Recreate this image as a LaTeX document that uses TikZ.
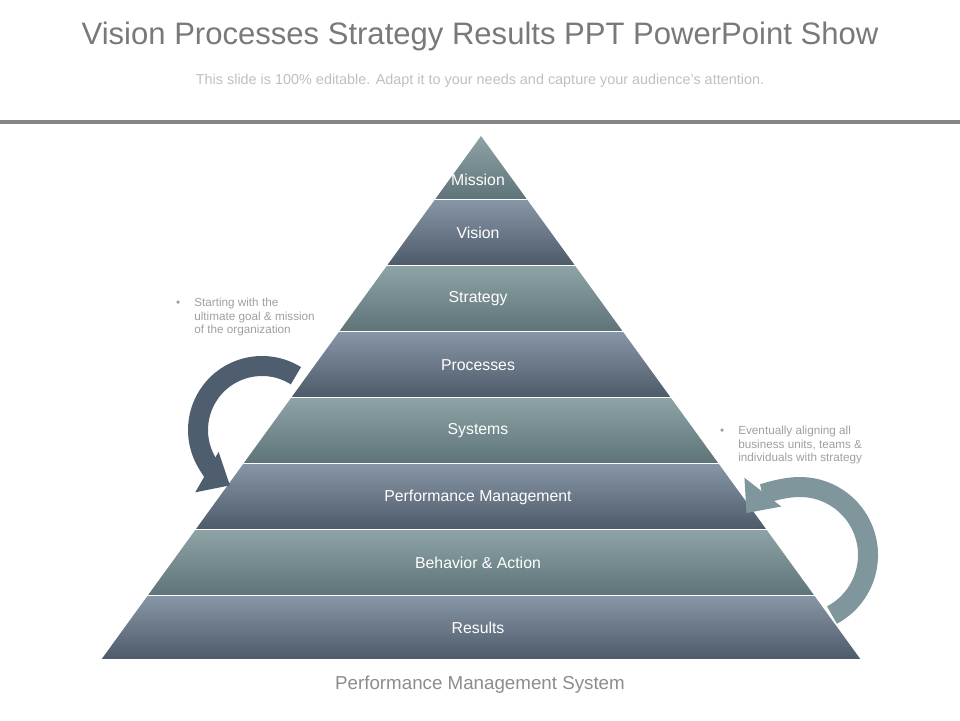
\documentclass[tikz,border=0pt]{standalone}
\usepackage{fontspec}
\setmainfont{Liberation Sans}
\usetikzlibrary{arrows.meta}
\definecolor{slatetop}{HTML}{8796A6}
\definecolor{slatebot}{HTML}{4C5968}
\definecolor{tealtop}{HTML}{8EA3A6}
\definecolor{tealbot}{HTML}{5D7377}
\definecolor{arrowdark}{HTML}{4F5E6E}
\definecolor{arrowlight}{HTML}{7F979C}
\tikzset{
  lbl/.style={text=white, font=\fontsize{13.5}{16}\selectfont},
  note/.style={text=gray!75, font=\fontsize{10}{11.5}\selectfont, align=left, anchor=north west},
  curlarrow/.style={line width=0.6cm, -{Triangle[width=1.35cm,length=0.8cm]}}
}
\begin{document}
\begin{tikzpicture}[x=0.03cm, y=-0.03cm]
\useasboundingbox (0,0) rectangle (960,720);
\node[text=gray!95!black, font=\fontsize{26.5}{30}\selectfont] (title) at (480,36) {Vision Processes Strategy Results PPT PowerPoint Show};
\node[text=gray!50, font=\fontsize{12.3}{14}\selectfont] (sub) at (480,81) {This slide is 100\% editable. Adapt it to your needs and capture your audience's attention.};
\fill[gray!95] (0,120) rectangle (960,124);

% pyramid bands
\foreach \top/\bot/\c/\txt [count=\i] in {136/200/teal/Mission, 200/266/slate/Vision, 266/332/teal/Strategy, 332/398/slate/Processes, 398/464/teal/Systems, 464/530/slate/Performance Management, 530/596/teal/Behavior \& Action, 596/660/slate/Results}{
  \pgfmathsetmacro\lt{481-(\top-136)*0.7252}
  \pgfmathsetmacro\rt{481+(\top-136)*0.7252}
  \pgfmathsetmacro\lb{481-(\bot-136)*0.7252}
  \pgfmathsetmacro\rb{481+(\bot-136)*0.7252}
  \shade[top color=\c top, bottom color=\c bot] (\lt,\top) -- (\rt,\top) -- (\rb,\bot) -- (\lb,\bot) -- cycle;
  \draw[white, line width=1.2pt] (\lb,\bot) -- (\rb,\bot);
  \pgfmathsetmacro\mid{(\top+\bot)/2+(\i==1?12:0)}
  \node[lbl] (band\i) at (478,\mid) {\txt};
}

% side notes
\node[note] (lnote) at (172,294) {\textbullet\hspace{12pt}\parbox[t]{4cm}{Starting with the\\ultimate goal \& mission\\of the organization}};
\node[note] (rnote) at (716,422) {\textbullet\hspace{12pt}\parbox[t]{4.2cm}{Eventually aligning all\\business units, teams \&\\individuals with strategy}};

% curved arrows
\draw[curlarrow, arrowdark] (262,430) ++(-58:64) arc[start angle=-58, end angle=-240, radius=64];
\draw[curlarrow, arrowlight] (800,555) ++(62:68) arc[start angle=62, end angle=-142, radius=68];

\node[text=gray!90, font=\fontsize{16}{18}\selectfont] (foot) at (480,685) {Performance Management System};
\end{tikzpicture}
\end{document}
